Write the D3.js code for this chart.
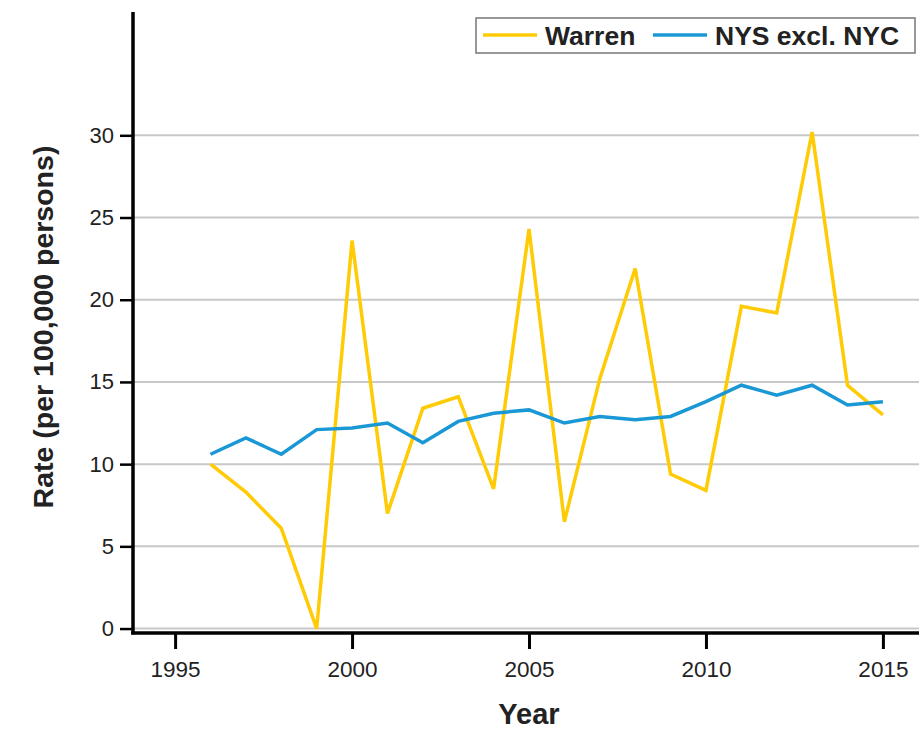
<!DOCTYPE html>
<html>
<head>
<meta charset="utf-8">
<script src="https://cdn.jsdelivr.net/npm/d3@7"></script>
<style>
  body { margin: 0; background: #fff; }
  svg { display: block; font-family: 'Liberation Sans', Arial, sans-serif; }
</style>
</head>
<body>
<div id="chart"></div>
<script>
const years = [1996, 1997, 1998, 1999, 2000, 2001, 2002, 2003, 2004, 2005,
    2006, 2007, 2008, 2009, 2010, 2011, 2012, 2013, 2014, 2015]
const warren = [10.0, 8.3, 6.1, 0.0, 23.6, 7.0, 13.4, 14.1, 8.5, 24.3,
    6.5, 15.2, 21.9, 9.4, 8.4, 19.6, 19.2, 30.2, 14.8, 13.0]
const nys = [10.6, 11.6, 10.6, 12.1, 12.2, 12.5, 11.3, 12.6, 13.1, 13.3,
    12.5, 12.9, 12.7, 12.9, 13.8, 14.8, 14.2, 14.8, 13.6, 13.8]
const xTicks = [1995, 2000, 2005, 2010, 2015]
const yTicks = [0, 5, 10, 15, 20, 25, 30]
const seriesNames = ['Warren', 'NYS excl. NYC']
const seriesColors = ['#ffcb05', '#1a98d5']

const width = 919
const height = 730
const plotLeft = 133
const plotRight = 919
const plotTop = 12
const plotBottom = 633

const svg = d3.select('#chart').append('svg')
    .attr('width', width)
    .attr('height', height)

const x = d3.scaleLinear().domain([1993.81, 2016.02]).range([plotLeft, plotRight])
const y = d3.scaleLinear().domain([-0.27, 37.5]).range([plotBottom, plotTop])

// gridlines
svg.append('g')
    .selectAll('line').data(yTicks).enter()
    .append('line')
    .attr('x1', plotLeft)
    .attr('x2', plotRight)
    .attr('y1', d => y(d))
    .attr('y2', d => y(d))
    .attr('stroke', '#c8c8c8')
    .attr('stroke-width', 2)

// lines
const line = d3.line()
    .x((d, i) => x(years[i]))
    .y(d => y(d))

const series = [warren, nys]
series.forEach((s, i) => {
    svg.append('path')
        .datum(s)
        .attr('d', line)
        .attr('fill', 'none')
        .attr('stroke', seriesColors[i])
        .attr('stroke-width', 3.5)
        .attr('stroke-linejoin', 'miter')
})

// axes
const yAxis = svg.append('g')
    .attr('transform', `translate(${plotLeft},0)`)
    .call(d3.axisLeft(y).tickValues(yTicks).tickSize(13).tickPadding(6))
yAxis.select('.domain').remove()
yAxis.selectAll('line').attr('stroke', '#000').attr('stroke-width', 2.5)
yAxis.selectAll('text')
    .attr('font-size', 22)
    .attr('fill', '#222')
    .attr('font-family', '\'Liberation Sans\', Arial, sans-serif')

const xAxis = svg.append('g')
    .attr('transform', `translate(0,${plotBottom})`)
    .call(d3.axisBottom(x).tickValues(xTicks).tickFormat(d3.format('d')).tickSize(16).tickPadding(12))
xAxis.select('.domain').remove()
xAxis.selectAll('line').attr('stroke', '#000').attr('stroke-width', 3)
xAxis.selectAll('text')
    .attr('font-size', 22.5)
    .attr('fill', '#222')
    .attr('font-family', '\'Liberation Sans\', Arial, sans-serif')

svg.append('line')
    .attr('x1', plotLeft).attr('x2', plotLeft)
    .attr('y1', plotTop).attr('y2', plotBottom + 1.5)
    .attr('stroke', '#000').attr('stroke-width', 3.5)
svg.append('line')
    .attr('x1', plotLeft - 1.75).attr('x2', plotRight)
    .attr('y1', plotBottom).attr('y2', plotBottom)
    .attr('stroke', '#000').attr('stroke-width', 3.5)

// axis titles
svg.append('text')
    .attr('x', (x(1995) + x(2015)) / 2)
    .attr('y', 724)
    .attr('text-anchor', 'middle')
    .attr('font-size', 29)
    .attr('font-weight', 'bold')
    .attr('fill', '#222')
    .text('Year')

svg.append('text')
    .attr('transform', 'translate(53,327) rotate(-90)')
    .attr('text-anchor', 'middle')
    .attr('font-size', 28.5)
    .attr('font-weight', 'bold')
    .attr('fill', '#222')
    .text('Rate (per 100,000 persons)')

// legend
svg.append('rect')
    .attr('x', 476).attr('y', 18)
    .attr('width', 439).attr('height', 35)
    .attr('fill', '#fff')
    .attr('stroke', '#777')
    .attr('stroke-width', 1.5)
const legend = svg.append('g')
const legendX = [483, 653]
seriesNames.forEach((name, i) => {
    legend.append('line')
        .attr('x1', legendX[i]).attr('x2', legendX[i] + 54)
        .attr('y1', 35).attr('y2', 35)
        .attr('stroke', seriesColors[i])
        .attr('stroke-width', 3.5)
    legend.append('text')
        .attr('x', legendX[i] + 62)
        .attr('y', 45)
        .attr('font-size', 26.5)
        .attr('font-weight', 'bold')
        .attr('fill', '#222')
        .text(name)
})
</script>
</body>
</html>
